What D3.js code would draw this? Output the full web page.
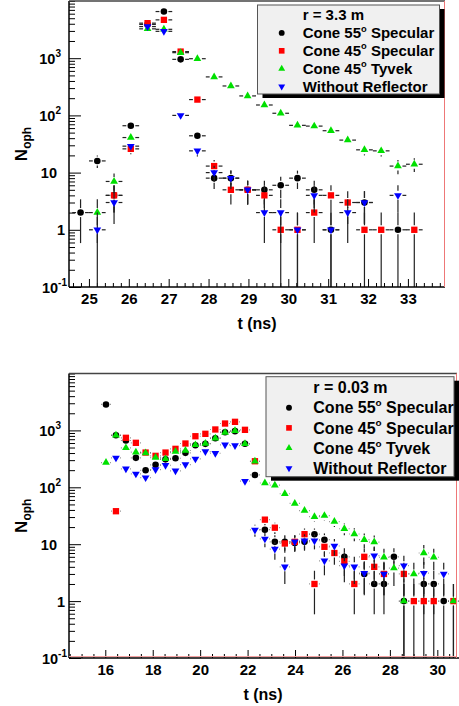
<!DOCTYPE html>
<html>
<head>
<meta charset="utf-8">
<script src="https://cdn.jsdelivr.net/npm/d3@7"></script>
<style>
    body { margin: 0; background: #fff; }
    svg { display: block; font-family: "Liberation Sans", Arial, sans-serif; font-weight: bold; }
</style>
</head>
<body>
<script>
// Centres des bins (ns) et nombre de photons, panneau du haut (r = 3.3 m)
const topTimes = [24.79, 25.21, 25.63, 26.05, 26.47, 26.88, 27.30, 27.72, 28.14, 28.56, 28.98,
    29.40, 29.81, 30.23, 30.65, 31.07, 31.49, 31.91, 32.33, 32.75, 33.16];
const topCone55 = [2, 16, 4, 66, 3900, 6540, 955, 44, 8, 8, 5, 5, 6, 8, 5, 1, null, 3, null, 1, null];
const topCone45 = [null, null, 4, 26, 4100, 4680, 1305, 189, 13, 5, 5, 4, 1, 1, 2, 4, 3, 1, 1, null, 1];
const topTyvek = [null, 2, 7, 41, 3260, 3200, 1250, 980, 471, 327, 219, 152, 109, 67, 65, 54, 37, 25, 24, 13, 14];
const topNoRefl = [null, 1, 3, 29, 3575, 2950, 100, 24, 10, 8, 5, 2, 2, 1, 4, 1, 2, 3, null, 4, null];

// Panneau du bas (r = 0.03 m)
const bottomTimes = [16.03, 16.45, 16.87, 17.29, 17.70, 18.12, 18.54, 18.96, 19.38, 19.80,
    20.22, 20.64, 21.05, 21.47, 21.89, 22.31, 22.73, 23.15, 23.57, 23.99, 24.40, 24.82,
    25.24, 25.66, 26.08, 26.50, 26.92, 27.34, 27.75, 28.17, 28.59, 29.01, 29.43, 29.85,
    30.27, 30.68];
const bottomCone55 = [2860, 824, 664, 329, 199, 248, 310, 324, 403, 550, 580, 729, 931, 970, 581,
    165, 18, 11, 11, 10.5, 11, 15, 12, null, 6, null, 3, 2, 2, 6, 1, null, 2, 2, 1, null];
const bottomCone45 = [null, 38, 741, 605, 408, 357, 408, 474, 588, 790, 871, 1038, 1321, 1415, 1024,
    287, 27, 19.5, 10.3, 11, 15, 2, 9, 7, 5, 2, 6, 4, 3, null, 3, 1, 1, 1, null, 1];
const bottomTyvek = [272, 820, 493, 414, 400, 333, 316, 425, 443, 557, 588, 729, 920, 984, 581,
    287, 119, 109, 77, 52, 39, 30.5, 31.8, 25, 18.7, 15.1, 12, 10.9, 5.9, 3.8, 1, 3, 7, 5.9, null, 1];
const bottomNoRefl = [null, 329, 211, 172, 148, 205, 244, 195, 251, 316, 425, 397, 557, 542, 128,
    17.8, 12.4, 8.2, 4, 11, 11.5, 11.5, 5.1, 9.3, 4.2, 4, 3.1, 6.3, 3, null, 4.2, null, 3.1, null, 3, null];

const binHalfWidth = 0.209;

// Légende : texte, exposant, suite
const legendLabels = [
    ["Cone 55", "o", " Specular"],
    ["Cone 45", "o", " Specular"],
    ["Cone 45", "o", " Tyvek"],
    ["Without Reflector", "", ""]
];

// Graduations de l'axe Y : valeur, base, exposant
const yTickValues = [0.1, 1, 10, 100, 1000];
const yTickBases = ["10", "1", "10", "10", "10"];
const yTickExps = ["-1", "", "", "2", "3"];

const seriesStyles = [
    { color: "#000000", shape: d3.symbolCircle, size: 34, rotate: 0 },
    { color: "#ff0000", shape: d3.symbolSquare, size: 40, rotate: 0 },
    { color: "#00e000", shape: d3.symbolTriangle, size: 26, rotate: 0 },
    { color: "#0000ff", shape: d3.symbolTriangle, size: 26, rotate: 180 }
];

const panels = [
    {
        left: 69, right: 445, top: 1, bottom: 287,
        xDomain: [24.5, 33.93], xMajor: 1, xMinor: 0.2,
        times: topTimes,
        series: [topCone55, topCone45, topTyvek, topNoRefl],
        header: "r = 3.3 m",
        legend: { x: 257.5, y: 5, w: 182, h: 89, markerX: 281.7, textX: 302.7, row0: 15, rowStep: 17.9, font: 15 },
        pinkBottom: false
    },
    {
        left: 69, right: 457, top: 373.5, bottom: 658,
        xDomain: [14.47, 30.83], xMajor: 2, xMinor: 0.5,
        times: bottomTimes,
        series: [bottomCone55, bottomCone45, bottomTyvek, bottomNoRefl],
        header: "r = 0.03 m",
        legend: { x: 266, y: 376.7, w: 188, h: 100, markerX: 289, textX: 313.3, row0: 387.5, rowStep: 20.2, font: 16 },
        pinkBottom: true
    }
];

const svg = d3.select("body").append("svg").attr("width", 459).attr("height", 706);

panels.forEach((panel, i) => drawPanel(svg, panel, i));

function drawPanel(svg, panel, index) {
    const x = d3.scaleLinear().domain(panel.xDomain).range([panel.left, panel.right]);
    const y = d3.scaleLog().domain([0.1, 1e4]).range([panel.bottom, panel.top]);
    const g = svg.append("g");

    drawAxes(g, x, y, panel);
    panel.series.forEach((values, i) => drawSeries(g, x, y, panel, values, seriesStyles[i]));
    drawFrame(g, panel);
    drawLegend(g, panel, index);
}

function drawAxes(g, x, y, panel) {
    const [x0, x1] = panel.xDomain;
    const majorX = d3.range(Math.ceil(x0 / panel.xMajor) * panel.xMajor, x1, panel.xMajor);
    const minorX = d3.range(Math.ceil(x0 / panel.xMinor) * panel.xMinor, x1, panel.xMinor)
        .filter(v => !majorX.some(m => Math.abs(m - v) < 1e-6));

    // Petites et grandes graduations vers l'intérieur
    g.append("g")
        .attr("transform", `translate(0,${panel.bottom})`)
        .call(d3.axisTop(x).tickValues(minorX).tickSize(4).tickFormat(""))
        .call(a => a.select(".domain").remove());
    g.append("g")
        .attr("transform", `translate(0,${panel.bottom})`)
        .call(d3.axisTop(x).tickValues(majorX).tickSize(8).tickFormat(""))
        .call(a => a.select(".domain").remove());

    // Étiquettes de l'axe X
    g.append("g")
        .attr("transform", `translate(0,${panel.bottom})`)
        .call(d3.axisBottom(x).tickValues(majorX).tickSize(0).tickPadding(6).tickFormat(d3.format("d")))
        .call(a => a.select(".domain").remove())
        .selectAll("text")
        .attr("font-size", 15)
        .attr("font-family", "Liberation Sans, Arial, sans-serif")
        .attr("font-weight", "bold")
        .attr("fill", "#000");

    const majorY = [0.1, 1, 10, 100, 1000];
    const minorY = y.ticks().filter(v => !majorY.some(m => Math.abs(m - v) / m < 1e-6));

    g.append("g")
        .attr("transform", `translate(${panel.left},0)`)
        .call(d3.axisRight(y).tickValues(minorY).tickSize(6).tickFormat(""))
        .call(a => a.select(".domain").remove());
    g.append("g")
        .attr("transform", `translate(${panel.left},0)`)
        .call(d3.axisRight(y).tickValues(majorY).tickSize(12).tickFormat(""))
        .call(a => a.select(".domain").remove());

    // Étiquettes de l'axe Y avec exposants
    yTickValues.forEach((v, i) => {
        let endX = panel.left - 8;
        if (yTickBases[i] === "1") endX = panel.left - 4;
        if (yTickExps[i] === "-1") endX = panel.left - 2;
        if (yTickBases[i] === "10" && yTickExps[i] === "") endX = panel.left - 12;

        const t = g.append("text")
            .attr("x", endX)
            .attr("y", y(v) + 5.5)
            .attr("text-anchor", "end")
            .attr("font-size", 14.5)
            .text(yTickBases[i]);
        if (yTickExps[i]) {
            t.append("tspan")
                .attr("font-size", 10)
                .attr("dy", -7)
                .text(yTickExps[i]);
        }
    });

    // Titres des axes
    g.append("text")
        .attr("x", (panel.left + panel.right) / 2)
        .attr("y", panel.bottom + 41.5)
        .attr("text-anchor", "middle")
        .attr("font-size", 16)
        .text("t (ns)");

    const yt = g.append("text")
        .attr("transform", `translate(27,${(panel.top + panel.bottom) / 2}) rotate(-90)`)
        .attr("text-anchor", "middle")
        .attr("font-size", 17)
        .text("N");
    yt.append("tspan").attr("font-size", 12).attr("dy", 4).text("oph");
}

function drawSeries(g, x, y, panel, values, style) {
    const points = panel.times
        .map((t, i) => ({ t: t, v: values[i] }))
        .filter(d => d.v !== null);
    const gap = 4.5;

    // Barres d'erreur (poissonniennes) avec un espace autour du marqueur
    const segments = [];
    points.forEach(d => {
        const cx = x(d.t);
        const cy = y(d.v);
        const e = Math.sqrt(d.v);
        const yHi = y(d.v + e);
        const yLo = d.v - e > 0.1 ? y(d.v - e) : panel.bottom;
        const xL = x(d.t - binHalfWidth);
        const xR = x(d.t + binHalfWidth);
        if (cy - yHi > gap) segments.push([cx, yHi, cx, cy - gap]);
        if (yLo - cy > gap) segments.push([cx, cy + gap, cx, yLo]);
        if (cx - xL > gap) segments.push([xL, cy, cx - gap, cy]);
        if (xR - cx > gap) segments.push([cx + gap, cy, xR, cy]);
    });

    g.append("g")
        .selectAll("line")
        .data(segments)
        .enter()
        .append("line")
        .attr("x1", s => s[0])
        .attr("y1", s => s[1])
        .attr("x2", s => s[2])
        .attr("y2", s => s[3])
        .style("stroke", "#222")
        .style("stroke-width", 1.2);

    const symbol = d3.symbol().type(style.shape).size(style.size);
    g.append("g")
        .selectAll("path")
        .data(points)
        .enter()
        .append("path")
        .attr("d", symbol)
        .attr("transform", d => `translate(${x(d.t)},${y(d.v)}) rotate(${style.rotate})`)
        .style("fill", style.color);
}

function drawFrame(g, panel) {
    g.append("line")
        .attr("x1", panel.left).attr("y1", panel.top)
        .attr("x2", panel.left).attr("y2", panel.bottom)
        .style("stroke", "#000").style("stroke-width", 1.5);
    g.append("line")
        .attr("x1", panel.left).attr("y1", panel.top)
        .attr("x2", panel.right).attr("y2", panel.top)
        .style("stroke", "#444").style("stroke-width", 1.5);
    g.append("line")
        .attr("x1", panel.left).attr("y1", panel.bottom)
        .attr("x2", panel.pinkBottom ? 459 : panel.right).attr("y2", panel.bottom)
        .style("stroke", "#000").style("stroke-width", 1.5);
    if (panel.pinkBottom) {
        g.append("line")
            .attr("x1", panel.left).attr("y1", panel.bottom - 1.5)
            .attr("x2", panel.right).attr("y2", panel.bottom - 1.5)
            .style("stroke", "#f4a0a0").style("stroke-width", 1);
    }
    g.append("line")
        .attr("x1", panel.right - 0.5).attr("y1", panel.top)
        .attr("x2", panel.right - 0.5).attr("y2", panel.bottom)
        .style("stroke", "#ee7777").style("stroke-width", 1);
}

function drawLegend(g, panel, index) {
    const L = panel.legend;

    g.append("clipPath")
        .attr("id", "legclip" + index)
        .append("rect")
        .attr("x", L.x).attr("y", L.y).attr("width", L.w).attr("height", L.h);

    // Ombre portée
    g.append("rect")
        .attr("x", L.x + 5).attr("y", L.y + 4)
        .attr("width", L.w).attr("height", L.h)
        .style("fill", "#000");
    g.append("rect")
        .attr("x", L.x).attr("y", L.y)
        .attr("width", L.w).attr("height", L.h)
        .style("fill", "#f0f0f0")
        .style("stroke", "#555")
        .style("stroke-width", 1);

    const texts = g.append("g").attr("clip-path", `url(#legclip${index})`);

    texts.append("text")
        .attr("x", L.textX)
        .attr("y", L.row0 + L.font * 0.36)
        .attr("font-size", L.font)
        .text(panel.header);

    legendLabels.forEach((label, i) => {
        const cy = L.row0 + (i + 1) * L.rowStep;
        const style = seriesStyles[i];
        g.append("path")
            .attr("d", d3.symbol().type(style.shape).size(style.size * 0.8))
            .attr("transform", `translate(${L.markerX},${cy}) rotate(${style.rotate})`)
            .style("fill", style.color);

        const t = texts.append("text")
            .attr("x", L.textX)
            .attr("y", cy + L.font * 0.36)
            .attr("font-size", L.font)
            .text(label[0]);
        if (label[1]) {
            t.append("tspan").attr("font-size", L.font * 0.62).attr("dy", -L.font * 0.45).text(label[1]);
            t.append("tspan").attr("font-size", L.font).attr("dy", L.font * 0.45).text(label[2]);
        }
    });
}
</script>
</body>
</html>
